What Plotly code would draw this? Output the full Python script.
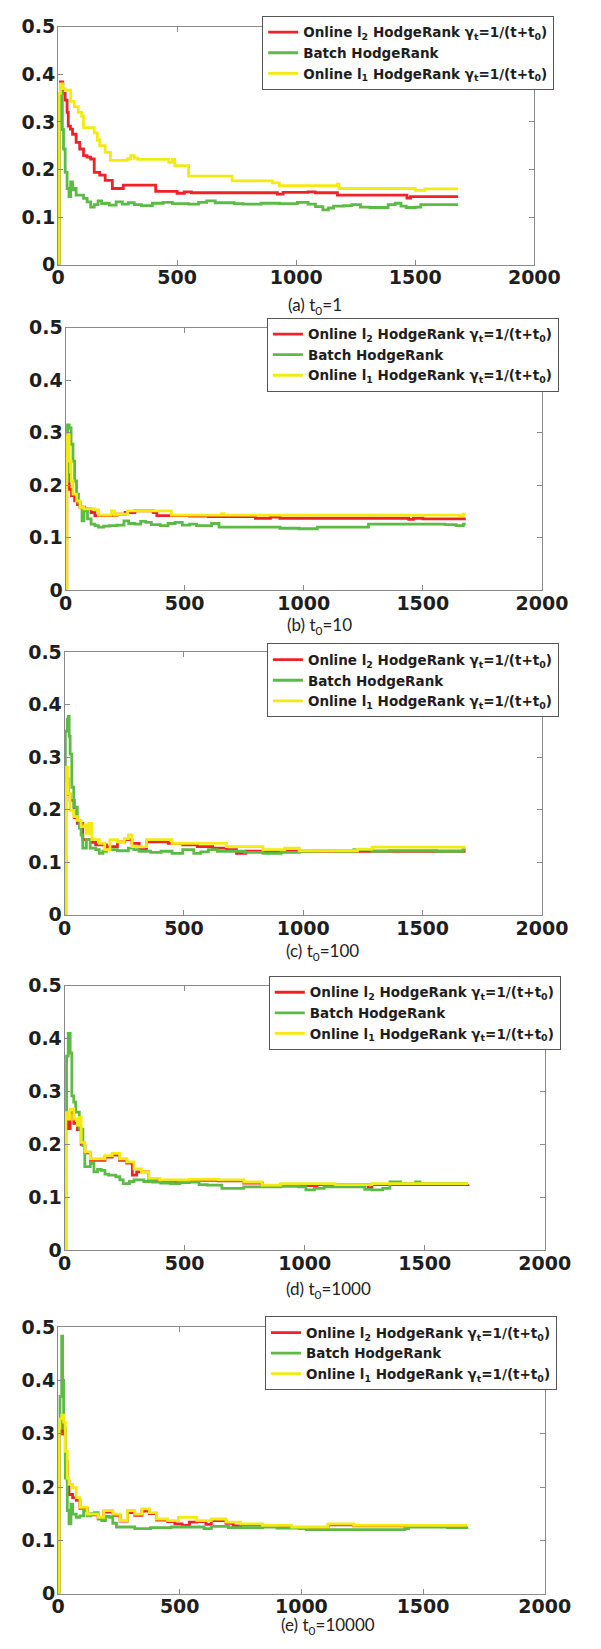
import plotly.graph_objects as go

W, H = 601, 1649

# ---------------- data ----------------
# Panel (a) t0 = 1
A_RED_X = [0, 4, 10, 20, 30, 38, 43, 52, 61, 76, 91, 107, 122, 137, 152, 175, 198, 228, 274, 410, 500, 530, 560, 921, 945, 1050, 1080, 1173, 1465, 1480, 1680]
A_RED_Y = [0, 0.35, 0.384, 0.36, 0.346, 0.32, 0.291, 0.285, 0.274, 0.257, 0.243, 0.229, 0.226, 0.222, 0.194, 0.188, 0.177, 0.160, 0.167, 0.154, 0.150, 0.153, 0.151, 0.148, 0.152, 0.153, 0.151, 0.146, 0.140, 0.143, 0.143]
A_GREEN_X = [0, 5, 12, 18, 23, 30, 38, 46, 53, 61, 68, 76, 91, 107, 122, 137, 152, 168, 183, 198, 215, 244, 270, 295, 320, 350, 396, 442, 480, 548, 590, 624, 660, 701, 740, 777, 853, 930, 1005, 1050, 1081, 1112, 1135, 1157, 1200, 1234, 1270, 1310, 1386, 1416, 1440, 1462, 1500, 1523, 1680]
A_GREEN_Y = [0, 0.30, 0.363, 0.284, 0.243, 0.194, 0.16, 0.143, 0.174, 0.157, 0.16, 0.146, 0.146, 0.139, 0.132, 0.121, 0.126, 0.134, 0.128, 0.129, 0.125, 0.132, 0.127, 0.130, 0.126, 0.124, 0.129, 0.131, 0.128, 0.127, 0.131, 0.134, 0.130, 0.130, 0.128, 0.127, 0.129, 0.128, 0.131, 0.127, 0.122, 0.115, 0.119, 0.123, 0.124, 0.126, 0.121, 0.120, 0.126, 0.129, 0.123, 0.120, 0.121, 0.126, 0.126]
A_YELLOW_X = [0, 4, 10, 20, 30, 53, 68, 85, 99, 107, 137, 152, 165, 175, 198, 220, 290, 305, 320, 335, 465, 480, 490, 548, 731, 880, 900, 929, 1173, 1180, 1500, 1540, 1680]
A_YELLOW_Y = [0, 0.36, 0.38, 0.37, 0.367, 0.343, 0.332, 0.32, 0.312, 0.288, 0.288, 0.277, 0.262, 0.25, 0.236, 0.219, 0.222, 0.229, 0.224, 0.221, 0.215, 0.221, 0.208, 0.186, 0.176, 0.176, 0.172, 0.166, 0.169, 0.160, 0.156, 0.159, 0.159]

# Panel (b) t0 = 10
B_RED_X = [0, 5, 10, 15, 25, 38, 50, 61, 80, 107, 123, 215, 250, 291, 368, 383, 444, 520, 600, 797, 860, 900, 1441, 1460, 1500, 1680]
B_RED_Y = [0, 0.28, 0.22, 0.192, 0.18, 0.17, 0.163, 0.158, 0.155, 0.148, 0.142, 0.145, 0.148, 0.151, 0.148, 0.142, 0.142, 0.141, 0.140, 0.137, 0.139, 0.137, 0.135, 0.137, 0.136, 0.136]
B_GREEN_X = [0, 3, 8, 15, 23, 31, 38, 46, 54, 61, 69, 77, 92, 107, 123, 138, 160, 184, 215, 245, 265, 291, 315, 337, 360, 398, 430, 460, 490, 521, 550, 582, 613, 644, 700, 828, 900, 981, 1057, 1257, 1272, 1594, 1640, 1670, 1680]
B_GREEN_Y = [0, 0.208, 0.315, 0.309, 0.278, 0.246, 0.208, 0.183, 0.167, 0.158, 0.132, 0.151, 0.136, 0.126, 0.123, 0.12, 0.122, 0.123, 0.124, 0.132, 0.127, 0.126, 0.131, 0.129, 0.125, 0.123, 0.127, 0.129, 0.124, 0.126, 0.123, 0.123, 0.127, 0.12, 0.12, 0.12, 0.118, 0.117, 0.12, 0.12, 0.126, 0.125, 0.123, 0.126, 0.126]
B_YELLOW_X = [0, 5, 8, 15, 23, 31, 46, 61, 77, 123, 138, 184, 192, 205, 215, 260, 429, 444, 640, 655, 665, 1655, 1670, 1680]
B_YELLOW_Y = [0, 0.29, 0.296, 0.246, 0.208, 0.183, 0.17, 0.158, 0.155, 0.153, 0.143, 0.143, 0.151, 0.143, 0.145, 0.151, 0.151, 0.143, 0.143, 0.146, 0.143, 0.142, 0.145, 0.145]

# Panel (c) t0 = 100
C_RED_X = [0, 5, 15, 23, 40, 53, 76, 99, 115, 130, 175, 221, 252, 282, 312, 343, 434, 495, 556, 620, 678, 720, 760, 1300, 1680]
C_RED_Y = [0, 0.26, 0.23, 0.218, 0.185, 0.174, 0.143, 0.143, 0.138, 0.133, 0.13, 0.139, 0.143, 0.136, 0.124, 0.139, 0.136, 0.133, 0.13, 0.127, 0.124, 0.117, 0.121, 0.121, 0.121]
C_GREEN_X = [0, 3, 11, 15, 19, 23, 30, 38, 53, 62, 69, 76, 91, 107, 130, 145, 160, 175, 221, 267, 290, 312, 360, 404, 450, 495, 541, 570, 602, 640, 678, 755, 831, 907, 983, 1059, 1136, 1212, 1288, 1360, 1440, 1560, 1669, 1680]
C_GREEN_Y = [0, 0.35, 0.372, 0.378, 0.34, 0.306, 0.243, 0.205, 0.18, 0.165, 0.152, 0.127, 0.143, 0.127, 0.124, 0.117, 0.121, 0.124, 0.122, 0.127, 0.124, 0.121, 0.119, 0.121, 0.117, 0.124, 0.117, 0.12, 0.124, 0.121, 0.121, 0.119, 0.117, 0.119, 0.121, 0.122, 0.121, 0.124, 0.121, 0.122, 0.122, 0.121, 0.124, 0.124]
C_YELLOW_X = [0, 4, 8, 15, 23, 38, 53, 69, 84, 91, 102, 114, 145, 168, 190, 221, 250, 267, 282, 343, 434, 450, 602, 678, 831, 922, 983, 1227, 1288, 1669, 1680]
C_YELLOW_Y = [0, 0.25, 0.281, 0.231, 0.199, 0.187, 0.18, 0.168, 0.171, 0.155, 0.174, 0.143, 0.136, 0.124, 0.143, 0.139, 0.145, 0.152, 0.13, 0.143, 0.143, 0.136, 0.136, 0.13, 0.124, 0.127, 0.122, 0.125, 0.129, 0.129, 0.129]

# Panel (d) t0 = 1000
D_RED_X = [0, 5, 15, 23, 38, 53, 69, 84, 107, 137, 168, 198, 229, 259, 282, 300, 350, 396, 460, 518, 640, 746, 823, 899, 1000, 1051, 1264, 1280, 1680]
D_RED_Y = [0, 0.25, 0.23, 0.26, 0.24, 0.228, 0.2, 0.184, 0.17, 0.17, 0.176, 0.18, 0.17, 0.165, 0.142, 0.148, 0.134, 0.131, 0.128, 0.132, 0.131, 0.127, 0.122, 0.124, 0.122, 0.124, 0.118, 0.124, 0.125]
D_GREEN_X = [0, 3, 8, 15, 23, 30, 38, 46, 61, 76, 84, 107, 122, 137, 152, 168, 183, 213, 230, 244, 270, 289, 330, 366, 400, 442, 480, 518, 560, 594, 655, 746, 823, 900, 975, 1005, 1040, 1081, 1203, 1250, 1279, 1325, 1355, 1400, 1432, 1462, 1480, 1680]
D_GREEN_Y = [0, 0.26, 0.367, 0.41, 0.373, 0.292, 0.28, 0.261, 0.229, 0.198, 0.158, 0.164, 0.148, 0.153, 0.151, 0.144, 0.142, 0.139, 0.133, 0.126, 0.13, 0.133, 0.13, 0.129, 0.127, 0.126, 0.128, 0.129, 0.124, 0.123, 0.117, 0.12, 0.12, 0.121, 0.12, 0.114, 0.117, 0.12, 0.12, 0.115, 0.114, 0.117, 0.129, 0.126, 0.126, 0.129, 0.126, 0.126]
D_YELLOW_X = [0, 5, 15, 23, 38, 53, 61, 69, 84, 107, 137, 168, 198, 229, 259, 289, 320, 350, 396, 518, 640, 746, 823, 899, 1051, 1127, 1279, 1680]
D_YELLOW_Y = [0, 0.26, 0.248, 0.267, 0.248, 0.236, 0.251, 0.204, 0.186, 0.173, 0.173, 0.179, 0.183, 0.173, 0.167, 0.154, 0.148, 0.136, 0.133, 0.134, 0.133, 0.129, 0.123, 0.126, 0.126, 0.124, 0.126, 0.126]

# Panel (e) t0 = 10000
E_RED_X = [0, 4, 10, 20, 30, 38, 45, 60, 75, 90, 120, 165, 188, 225, 255, 285, 315, 345, 375, 405, 450, 480, 510, 540, 570, 608, 630, 690, 720, 750, 840, 960, 1110, 1215, 1680]
E_RED_Y = [0, 0.3, 0.33, 0.3, 0.248, 0.21, 0.186, 0.18, 0.175, 0.16, 0.148, 0.142, 0.153, 0.147, 0.136, 0.152, 0.147, 0.155, 0.15, 0.138, 0.135, 0.131, 0.128, 0.134, 0.135, 0.13, 0.137, 0.132, 0.127, 0.129, 0.127, 0.124, 0.129, 0.127, 0.127]
E_GREEN_X = [0, 4, 8, 15, 19, 23, 30, 38, 45, 53, 60, 75, 90, 105, 120, 135, 150, 165, 180, 195, 210, 225, 240, 315, 380, 465, 600, 630, 700, 840, 900, 990, 1020, 1290, 1425, 1440, 1600, 1680]
E_GREEN_Y = [0, 0.30, 0.37, 0.483, 0.4, 0.31, 0.217, 0.156, 0.131, 0.168, 0.149, 0.143, 0.146, 0.156, 0.146, 0.15, 0.152, 0.14, 0.137, 0.145, 0.143, 0.132, 0.125, 0.122, 0.124, 0.125, 0.122, 0.126, 0.124, 0.125, 0.123, 0.122, 0.12, 0.12, 0.122, 0.125, 0.124, 0.126]
E_YELLOW_X = [0, 4, 8, 15, 23, 30, 38, 45, 60, 75, 90, 120, 165, 188, 225, 255, 285, 315, 345, 375, 405, 450, 495, 570, 630, 690, 750, 840, 960, 1110, 1215, 1680]
E_YELLOW_Y = [0, 0.31, 0.328, 0.335, 0.322, 0.267, 0.217, 0.205, 0.199, 0.18, 0.162, 0.149, 0.143, 0.156, 0.149, 0.137, 0.156, 0.149, 0.159, 0.152, 0.14, 0.137, 0.143, 0.137, 0.14, 0.134, 0.131, 0.128, 0.125, 0.131, 0.128, 0.128]

SERIES_NAMES = [
    "Online l<sub>2</sub> HodgeRank γ<sub>t</sub>=1/(t+t<sub>0</sub>)",
    "Batch HodgeRank",
    "Online l<sub>1</sub> HodgeRank γ<sub>t</sub>=1/(t+t<sub>0</sub>)",
]
CAPTIONS = ["(a) t<sub>0</sub>=1", "(b) t<sub>0</sub>=10", "(c) t<sub>0</sub>=100",
            "(d) t<sub>0</sub>=1000", "(e) t<sub>0</sub>=10000"]
X_TICKS = [0, 500, 1000, 1500, 2000]
X_TICK_TEXT = ["0", "500", "1000", "1500", "2000"]
Y_TICKS = [0, 0.1, 0.2, 0.3, 0.4, 0.5]
Y_TICK_TEXT = ["0", "0.1", "0.2", "0.3", "0.4", "0.5"]

DATA = [
    [(A_RED_X, A_RED_Y), (A_GREEN_X, A_GREEN_Y), (A_YELLOW_X, A_YELLOW_Y)],
    [(B_RED_X, B_RED_Y), (B_GREEN_X, B_GREEN_Y), (B_YELLOW_X, B_YELLOW_Y)],
    [(C_RED_X, C_RED_Y), (C_GREEN_X, C_GREEN_Y), (C_YELLOW_X, C_YELLOW_Y)],
    [(D_RED_X, D_RED_Y), (D_GREEN_X, D_GREEN_Y), (D_YELLOW_X, D_YELLOW_Y)],
    [(E_RED_X, E_RED_Y), (E_GREEN_X, E_GREEN_Y), (E_YELLOW_X, E_YELLOW_Y)],
]

# ---------------- layout geometry (pixels) ----------------
BOXES = [(54, 558, 16, 257), (62, 566, 321, 587), (61, 566, 650, 916),
         (61, 569, 988, 1256), (54, 569, 1334, 1604)]
LEGEND_POS = [(270, 5), (275, 311), (275, 641), (277, 978), (273, 1323)]
CAPTION_POS = [(326, 299), (331, 623), (334, 954), (340, 1296), (340, 1637)]
COLORS = ["#ee2228", "#5cba46", "#f3ea12"]

TICK_FONT = dict(family="DejaVu Sans", size=19, color="#1e1e1e", weight="bold")
LEG_FONT = dict(family="DejaVu Sans", size=13.5, color="#1e1e1e", weight="bold")
CAP_FONT = dict(family="Liberation Sans Narrow, Lato", size=17, color="#222222")

fig = go.Figure()
layout = dict(width=W, height=H, margin=dict(l=0, r=0, t=0, b=0),
              paper_bgcolor="white", plot_bgcolor="white", annotations=[])

for i, (panel, box) in enumerate(zip(DATA, BOXES)):
    n = i + 1
    suf = "" if n == 1 else str(n)
    x0, x1, y0, y1 = box
    leg = "legend" if n == 1 else f"legend{n}"
    for (xs, ys), name, col in zip(panel, SERIES_NAMES, COLORS):
        fig.add_trace(go.Scatter(x=xs, y=ys, mode="lines", name=name,
                                 line=dict(color=col, width=2.8, shape="hv"),
                                 xaxis=f"x{suf}", yaxis=f"y{suf}", legend=leg))
    axcommon = dict(showgrid=False, zeroline=False, showline=True, linecolor="#8a8a8a",
                    linewidth=1, mirror="ticks", ticks="inside", ticklen=5,
                    tickcolor="#8a8a8a", tickfont=TICK_FONT)
    layout[f"xaxis{suf}"] = dict(domain=[x0 / W, x1 / W], anchor=f"y{suf}",
                                 range=[0, 2000], tickvals=X_TICKS, ticktext=X_TICK_TEXT,
                                 ticklabelstandoff=-4, **axcommon)
    layout[f"yaxis{suf}"] = dict(domain=[1 - y1 / H, 1 - y0 / H], anchor=f"x{suf}",
                                 range=[0, 0.5], tickvals=Y_TICKS, ticktext=Y_TICK_TEXT,
                                 ticklabelstandoff=-2, **axcommon)
    lx, ly = LEGEND_POS[i]
    layout[leg] = dict(x=lx / W, y=1 - ly / H, xanchor="left", yanchor="top",
                       xref="paper", yref="paper",
                       bgcolor="white", bordercolor="#555555", borderwidth=1,
                       font=LEG_FONT, tracegroupgap=0)
    cx, cy = CAPTION_POS[i]
    layout["annotations"].append(dict(text=CAPTIONS[i], x=cx / W, y=1 - cy / H,
                                      xref="paper", yref="paper", showarrow=False,
                                      xanchor="center", yanchor="middle",
                                      font=CAP_FONT))

fig.update_layout(**layout)
fig.write_html("out.html")
